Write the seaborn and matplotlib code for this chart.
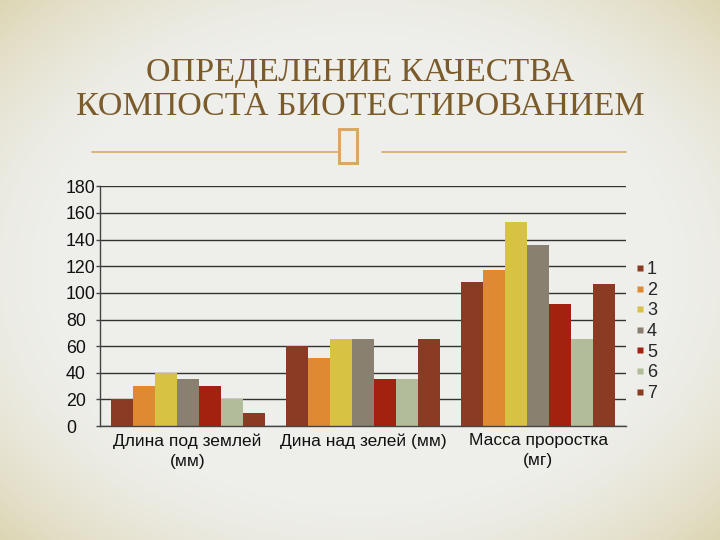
import numpy as np
import pandas as pd
import matplotlib
matplotlib.use("Agg")
import matplotlib.pyplot as plt
from matplotlib.patches import Rectangle
from matplotlib.lines import Line2D
import seaborn as sns

categories = ["Длина под землей\n(мм)", "Дина над зелей (мм)", "Масса проростка\n(мг)"]
series = ["1", "2", "3", "4", "5", "6", "7"]
values = {
    "1": [20, 60, 108],
    "2": [30, 51, 117],
    "3": [40, 65, 153],
    "4": [35, 65, 136],
    "5": [30, 35, 92],
    "6": [20, 35, 65],
    "7": [10, 65, 107],
}
yticks = [0, 20, 40, 60, 80, 100, 120, 140, 160, 180]
colors = ["#8B3A24", "#DF8A32", "#D8C243", "#8A8070", "#A3220F", "#B2BB9A", "#8B3A24"]
title = "ОПРЕДЕЛЕНИЕ КАЧЕСТВА\nКОМПОСТА БИОТЕСТИРОВАНИЕМ"

rows = []
for s in series:
    for c, v in zip(categories, values[s]):
        rows.append({"cat": c, "series": s, "value": v})
df = pd.DataFrame(rows)

sns.set_theme(style="white")
plt.rcParams["font.family"] = ["Liberation Sans", "DejaVu Sans"]

fig = plt.figure(figsize=(7.2, 5.4), dpi=100)
fig.patch.set_facecolor("#EDEDE9")

# background gradient (light centre, beige corners)
bg = fig.add_axes([0, 0, 1, 1], zorder=-10)
yy, xx = np.mgrid[0:1:270j, 0:1:360j]
d = np.sqrt(((xx - 0.5) / 0.5) ** 2 + ((yy - 0.5) / 0.5) ** 2) / np.sqrt(2)
t = np.clip((d - 0.62) / 0.38, 0, 1) ** 1.5
c0 = np.array([0xEE, 0xEE, 0xEA]) / 255
c1 = np.array([0xDD, 0xD6, 0xB4]) / 255
img = c0[None, None, :] * (1 - t[..., None]) + c1[None, None, :] * t[..., None]
bg.imshow(img, aspect="auto", extent=[0, 1, 0, 1])
bg.axis("off")

ax = fig.add_axes([0.139, 0.211, 0.730, 0.444])
ax.set_facecolor("none")
sns.barplot(data=df, x="cat", y="value", hue="series", palette=colors,
            width=0.88, gap=0, ax=ax, legend=False, saturation=1, edgecolor="none")

ax.set_ylim(0, 180)
ax.set_xlim(-0.5, 2.5)
ax.set_yticks(yticks)
ax.set_yticklabels([str(v) for v in yticks], fontsize=12.8, color="#111111", ha="left")
ax.yaxis.grid(True, color="#333333", linewidth=1.0)
ax.set_axisbelow(True)
ax.set_xlabel("")
ax.set_ylabel("")
for lab in ax.get_xticklabels():
    lab.set_linespacing(1.45)
ax.tick_params(axis="x", which="major", length=0, labelsize=12.5, labelcolor="#111111", pad=5)
ax.set_xticks([-0.5, 0.5, 1.5, 2.5], minor=True)
ax.tick_params(axis="x", which="minor", length=5, color="#444444", width=1, direction="out")
ax.tick_params(axis="y", length=3, color="#444444", width=1, direction="out", left=True, pad=21.5)
for s in ["top", "right"]:
    ax.spines[s].set_visible(False)
for s in ["left", "bottom"]:
    ax.spines[s].set_color("#444444")
    ax.spines[s].set_linewidth(1)

# legend
handles = [Line2D([0], [0], marker="s", linestyle="none", markersize=5,
                  markerfacecolor=c, markeredgecolor="none") for c in colors]
fig.legend(handles, series, loc="center left", bbox_to_anchor=(0.856, 0.386),
           frameon=False, fontsize=13, handletextpad=0.0, labelspacing=0.2,
           handlelength=0.8)

# title
fig.text(0.5, 0.834, title, ha="center", va="center", fontsize=24.5,
         family=["Liberation Serif", "DejaVu Serif"], color="#7C5B2B",
         linespacing=1.12)

# ornament
orn = "#D8A868"
fig.add_artist(Line2D([92 / 720, 338 / 720], [1 - 152 / 540] * 2, color=orn, lw=1.2))
fig.add_artist(Line2D([382 / 720, 626 / 720], [1 - 152 / 540] * 2, color=orn, lw=1.2))
fig.add_artist(Rectangle((339 / 720, 1 - 163 / 540), 18 / 720, 34 / 540,
                         fill=False, edgecolor=orn, lw=2.2, transform=fig.transFigure))

fig.savefig("out.png", dpi=100)
